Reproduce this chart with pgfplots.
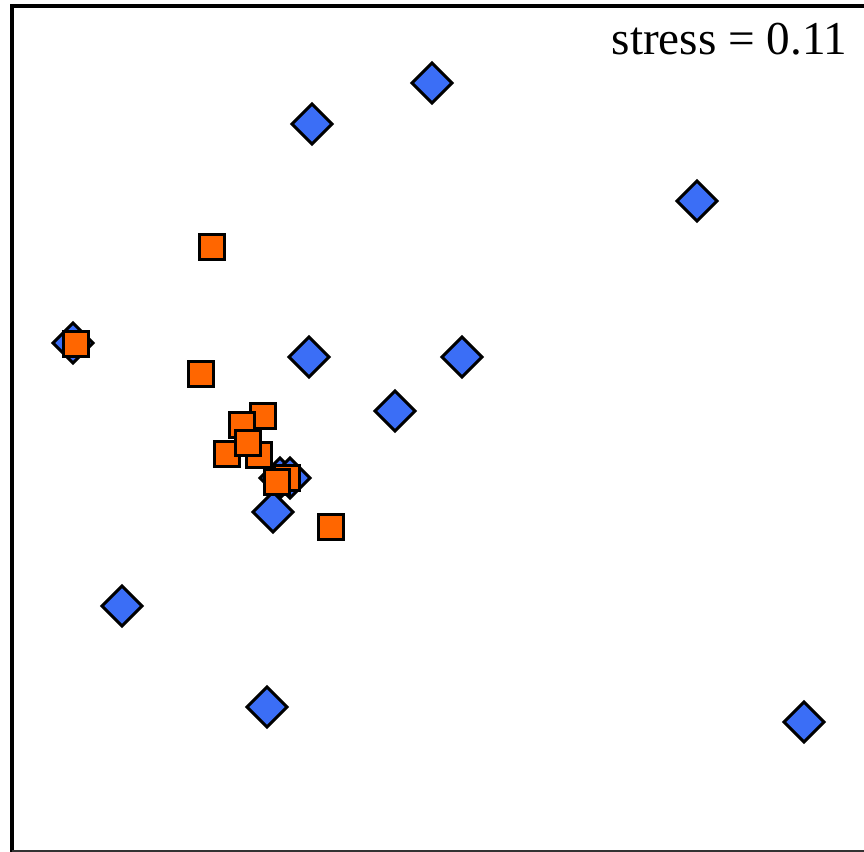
\documentclass[border=0pt]{standalone}
\usepackage{pgfplots}
\pgfplotsset{compat=1.18}
\usepackage{fontspec}
\setmainfont{Liberation Serif}

\definecolor{siteblue}{RGB}{59,110,246}
\definecolor{siteorange}{RGB}{255,102,0}

% NMDS ordination, coordinates in plot units (x right, y up)
\pgfplotstableread{
x y
432 769
312 728
697 651
73 509
309 495
462 495
395 441
280 374
290 374
273 340
122 246
267 145
804 130
}\bluetab

\pgfplotstableread{
x y
212 605
76 508
201 478
263 436
242 427
227 398
259 397
248 409
287 374
277 370
331 325
}\orangetab

\begin{document}
\begin{tikzpicture}
\begin{axis}[
  scale only axis,
  width=432pt, height=426pt,
  xmin=0, xmax=864, ymin=0, ymax=852,
  hide axis,
  clip=false,
]
% frame (open on the right)
\draw[line width=1.6pt, black, line cap=rect] (axis cs:12,1.5) -- (axis cs:12,846) -- (axis cs:880,846);
\draw[line width=0.8pt, black!80] (axis cs:12,1.2) -- (axis cs:880,1.2);

\addplot[only marks, mark=square*, mark size=7.1pt,
  mark options={rotate=45, fill=siteblue, draw=black, line width=1.5pt}]
  table[x=x, y=y] {\bluetab};
\addplot[only marks, mark=square*, mark size=6.4pt,
  mark options={fill=siteorange, draw=black, line width=1.5pt}]
  table[x=x, y=y] {\orangetab};

\node[anchor=base east, font=\fontsize{23.6}{28}\selectfont, inner sep=0pt]
  at (axis cs:848,797) {stress = 0.11};
\end{axis}
\pgfresetboundingbox
\path (current axis.south west) rectangle (current axis.north east);
\end{tikzpicture}
\end{document}
